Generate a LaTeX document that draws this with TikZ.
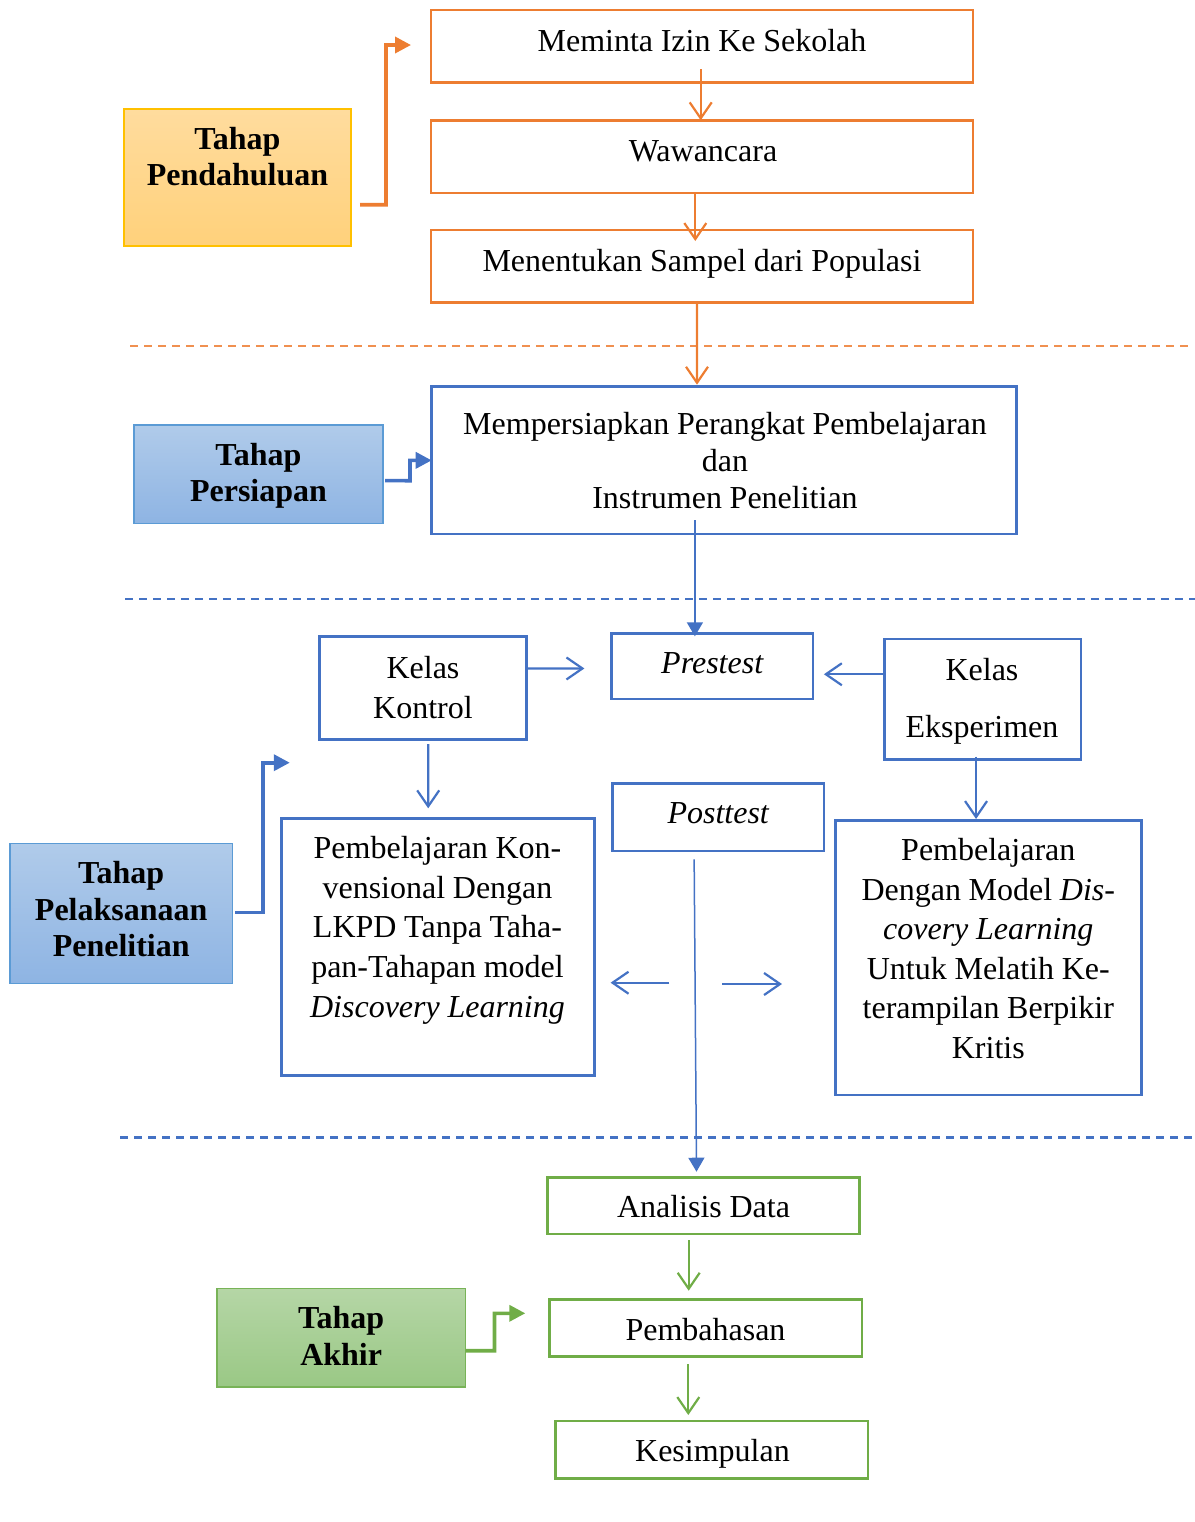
\documentclass[tikz,border=0pt]{standalone}
\usepackage{fontspec}
\setmainfont{Liberation Serif}
\usetikzlibrary{arrows.meta,calc}
\definecolor{ora}{HTML}{ED7D31}
\definecolor{blu}{HTML}{4472C4}
\definecolor{grn}{HTML}{70AD47}
\definecolor{ytop}{HTML}{FFDC9E}
\definecolor{ybot}{HTML}{FFD17B}
\definecolor{yedge}{HTML}{FFC000}
\definecolor{btop}{HTML}{B0CBEA}
\definecolor{bbot}{HTML}{8EB4E3}
\definecolor{bedge}{HTML}{5B9BD5}
\definecolor{gtop}{HTML}{B5D6A6}
\definecolor{gbot}{HTML}{9AC885}
\definecolor{gedge}{HTML}{78B357}
\tikzset{
  box/.style={rectangle, draw, line width=1.3pt, outer sep=0pt, inner sep=0pt},
  obox/.style={box, draw=ora},
  bbox/.style={box, draw=blu},
  gbox/.style={box, draw=grn},
  tahapbox/.style={rectangle, outer sep=0pt, inner sep=0pt, line width=0.8pt},
  txt/.style={anchor=base, text width=330pt, align=center, inner sep=0pt, font=\fontsize{16}{18.5}\selectfont, execute at begin node={\spaceskip=0.24em\relax}},
  boldtxt/.style={txt, font=\fontsize{16}{18.35}\selectfont\bfseries},
  openarr/.style={line width=1.1pt, -{Straight Barb[length=8pt,width=11pt]}},
  thinarr/.style={line width=0.75pt, draw=blu, -{Triangle[length=7pt,width=8pt]}},
  elbowarr/.style={line width=1.8pt, line join=miter, -{Triangle[length=8pt,width=8pt]}},
  sepline/.style={line width=1.2pt, dash pattern=on 4pt off 3pt},
}
\begin{document}
\begin{tikzpicture}[x=0.5pt,y=-0.5pt]
\useasboundingbox (0,0) rectangle (1195,1522);

% ---------- separators ----------
\draw[sepline, draw=ora!85] (130,345.7) -- (1190,345.7);
\draw[sepline, draw=blu] (125,599) -- (1195,599);
\draw[sepline, draw=blu] (120,1137.3) -- (1192,1137.3);

% ---------- Tahap Pendahuluan ----------
\node[tahapbox, top color=ytop, bottom color=ybot, draw=yedge, minimum width=113.5pt, minimum height=68.65pt] (tp) at (237.5,177.35) {};
\node[boldtxt] (ttp) at (237.5,149) {Tahap\\Pendahuluan};

\node[obox, minimum width=271pt, minimum height=36.25pt] (b1) at (702,46.25) {};
\node[obox, minimum width=271pt, minimum height=36.35pt] (b2) at (702,156.65) {};
\node[obox, minimum width=271pt, minimum height=36.35pt] (b3) at (702,266.35) {};
\node[txt] (tb1) at (702,51) {Meminta Izin Ke Sekolah};
\node[txt] (tb2) at (703,161) {Wawancara};
\node[txt] (tb3) at (702,271) {Menentukan Sampel dari Populasi};

\coordinate (oe1) at (411,45);
\draw[elbowarr, draw=ora] ([xshift=4.5pt,yshift=-13.7pt]tp.east) -- (386,204.7) |- (oe1);

\draw[openarr, draw=ora] ([xshift=-0.65pt,yshift=6.75pt]b1.south) -- ([xshift=-0.65pt]b2.north);
\draw[openarr, draw=ora] ([xshift=-3.35pt]b2.south) -- ([xshift=-3.35pt,yshift=-5.5pt]b3.north);

% ---------- Tahap Persiapan ----------
\node[tahapbox, top color=btop, bottom color=bbot, draw=bedge, minimum width=124.5pt, minimum height=49.15pt] (tpr) at (258.2,474.15) {};
\node[boldtxt] (ttpr) at (258.5,465) {Tahap\\Persiapan};

\node[bbox, minimum width=292.5pt, minimum height=73.65pt] (b4) at (724.2,460.35) {};
\node[txt] (tb4) at (725,434.3) {Mempersiapkan Perangkat Pembelajaran\\dan\\Instrumen Penelitian};

\draw[openarr, draw=ora] ([xshift=-2.5pt]b3.south) -- ([xshift=-13.6pt,yshift=1pt]b4.north);
\draw[elbowarr, draw=blu] ([xshift=1.15pt,yshift=-3.25pt]tpr.east) -- (410,480.7) |- (b4.west);

% ---------- Tahap Pelaksanaan ----------
\node[tahapbox, top color=btop, bottom color=bbot, draw=bedge, minimum width=111.3pt, minimum height=70pt] (tpl) at (121.2,913.3) {};
\node[boldtxt] (ttpl) at (121.2,883.3) {Tahap\\Pelaksanaan\\Penelitian};

\node[bbox, minimum width=103.3pt, minimum height=51.3pt] (kk) at (423,688) {};
\node[txt, font=\fontsize{16}{20}\selectfont] (tkk) at (423,678.3) {Kelas\\Kontrol};

\node[bbox, minimum width=100.8pt, minimum height=32.85pt] (pre) at (712.2,666.15) {};
\node[txt] (tpre) at (712.5,673.3) {\textit{Prestest}};

\node[bbox, minimum width=98.25pt, minimum height=60.15pt] (ke) at (982.55,699.15) {};
\node[txt, font=\fontsize{16}{28.65}\selectfont] (tke) at (982,680) {Kelas\\Eksperimen};

\node[bbox, minimum width=105.85pt, minimum height=33.85pt] (post) at (718.05,817.15) {};
\node[txt] (tpost) at (718.5,823.3) {\textit{Posttest}};

\node[bbox, minimum width=156.4pt, minimum height=128.7pt] (lk) at (437.9,947) {};
\node[txt, font=\fontsize{16}{19.875}\selectfont] (tlk) at (437.5,858.3) {Pembelajaran Kon-\\vensional Dengan\\LKPD Tanpa Taha-\\pan-Tahapan model\\\textit{Discovery Learning}};

\node[bbox, minimum width=152.95pt, minimum height=137.15pt] (rk) at (988.65,957.85) {};
\node[txt, font=\fontsize{16}{19.75}\selectfont] (trk) at (988.3,860.7) {Pembelajaran\\Dengan Model \textit{Dis-}\\\textit{covery Learning}\\Untuk Melatih Ke-\\terampilan Berpikir\\Kritis};

\draw[thinarr] ([xshift=-14.65pt,yshift=7pt]b4.south) -- ([xshift=-8.65pt,yshift=-1.5pt]pre.north);

\coordinate (be3) at (289.8,762.7);
\draw[elbowarr, draw=blu] ([xshift=1.25pt,yshift=0.5pt]tpl.east) -- (263,912.3) |- (be3);

\draw[openarr, draw=blu] ([yshift=9.75pt]kk.east) -- ([xshift=-13.5pt,yshift=-1.15pt]pre.west);
\draw[openarr, draw=blu] ([yshift=12.45pt]ke.west) -- ([xshift=5.45pt,yshift=-4.05pt]pre.east);
\draw[openarr, draw=blu] ([xshift=2.6pt,yshift=-2.35pt]kk.south) -- ([xshift=-4.85pt,yshift=5pt]lk.north);
\draw[openarr, draw=blu] ([xshift=-3.25pt,yshift=1.3pt]ke.south) -- ([xshift=-6.3pt,yshift=0.85pt]rk.north);

\coordinate (la1) at (669.4,982.7);
\coordinate (la2) at (610.6,982.7);
\coordinate (ra1) at (722,984);
\coordinate (ra2) at (782,984);
\draw[openarr, draw=blu] (la1) -- (la2);
\draw[openarr, draw=blu] (ra1) -- (ra2);

% ---------- Tahap Akhir ----------
\node[gbox, minimum width=156.1pt, minimum height=28.35pt] (ad) at (703.4,1205.65) {};
\node[txt] (tad) at (703.5,1217.3) {Analisis Data};
\node[gbox, minimum width=156.1pt, minimum height=28.7pt] (pb) at (705.7,1328) {};
\node[txt] (tpb) at (705.5,1340) {Pembahasan};
\node[gbox, minimum width=156.1pt, minimum height=28.65pt] (ks) at (711.7,1449.65) {};
\node[txt] (tks) at (712.5,1461.7) {Kesimpulan};

\draw[thinarr] ([xshift=-11.95pt,yshift=-4.15pt]post.south) -- ([xshift=-3.45pt,yshift=2.8pt]ad.north);

\node[tahapbox, top color=gtop, bottom color=gbot, draw=gedge, minimum width=124.45pt, minimum height=49.2pt] (ta) at (341.15,1337.5) {};
\node[boldtxt] (tta) at (341.2,1328.3) {Tahap\\Akhir};

\coordinate (ge4) at (525.3,1313.3);
\draw[elbowarr, draw=grn] ([yshift=-6.6pt]ta.east) -- (494.5,1350.7) |- (ge4);

\draw[openarr, draw=grn] ([xshift=-7.35pt,yshift=-3pt]ad.south) -- ([xshift=-8.5pt,yshift=4.3pt]pb.north);
\draw[openarr, draw=grn] ([xshift=-8.7pt,yshift=-3.65pt]pb.south) -- ([xshift=-11.7pt,yshift=3pt]ks.north);
\end{tikzpicture}
\end{document}
